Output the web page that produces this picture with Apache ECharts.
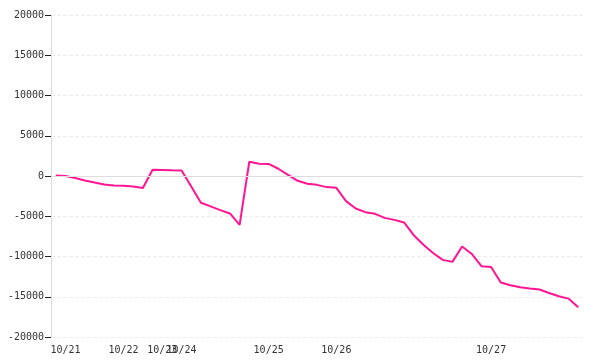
<!DOCTYPE html>
<html>
<head>
<meta charset="utf-8">
<script src="https://cdn.jsdelivr.net/npm/echarts@6/dist/echarts.min.js"></script>
<style>html,body{margin:0;padding:0;background:#fff}#c{width:600px;height:360px}</style>
</head>
<body>
<div id="c"></div>
<script>
// one category per data point; the axis label shows the date where it changes
const categories = [
  '10/20',
  '10/21','10/21','10/21','10/21','10/21','10/21',
  '10/22','10/22','10/22','10/22',
  '10/23','10/23',
  '10/24','10/24','10/24','10/24','10/24','10/24','10/24','10/24','10/24',
  '10/25','10/25','10/25','10/25','10/25','10/25','10/25',
  '10/26','10/26','10/26','10/26','10/26','10/26','10/26','10/26','10/26','10/26','10/26','10/26','10/26','10/26','10/26','10/26',
  '10/27','10/27','10/27','10/27','10/27','10/27','10/27','10/27','10/27','10/27'
];
const values = [
  50, 0, -260, -550, -800, -1050, -1170, -1220, -1300, -1500,
  770, 750, 700, 680, -1300, -3330, -3780, -4240, -4650, -6070,
  1770, 1520, 1500, 900, 150, -600, -970, -1100, -1380, -1470,
  -3120, -4030, -4490, -4700, -5200, -5450, -5770, -7350, -8550, -9560,
  -10420, -10670, -8760, -9680, -11210, -11300, -13240, -13570, -13820, -13980,
  -14100, -14530, -14940, -15230, -16300
];
const yMin = -20000, yMax = 20000, yStep = 5000;

const font = 'DejaVu Sans Mono';
const chart = echarts.init(document.getElementById('c'), null, {renderer: 'canvas'});
chart.setOption({
  animation: false,
  backgroundColor: '#fff',
  grid: {left: 51, right: 17, top: 15, bottom: 23, containLabel: false},
  xAxis: {
    type: 'category',
    data: categories,
    boundaryGap: true,
    axisLine: {show: false},
    axisTick: {show: false},
    splitLine: {show: false},
    axisLabel: {
      color: '#333', fontFamily: font, fontSize: 10, margin: 8,
      interval: function (i) { return i > 0 && categories[i] !== categories[i - 1]; }
    }
  },
  yAxis: {
    type: 'value',
    min: yMin, max: yMax, interval: yStep,
    axisLine: {show: true, lineStyle: {color: '#ddd', width: 1}},
    axisTick: {show: true, length: 6, lineStyle: {color: '#222', width: 1}},
    axisLabel: {color: '#333', fontFamily: font, fontSize: 10, margin: 7,
      formatter: function (v) { return String(v); }},
    splitLine: {show: true, lineStyle: {color: '#eee', type: 'dashed', width: 1}}
  },
  series: [{
    type: 'line',
    data: values,
    showSymbol: false,
    symbol: 'none',
    lineStyle: {color: '#ff1493', width: 2},
    itemStyle: {color: '#ff1493'},
    markLine: {
      silent: true,
      symbol: 'none',
      label: {show: false},
      lineStyle: {color: '#ddd', type: 'solid', width: 1},
      data: [{yAxis: 0}]
    },
    z: 3
  }]
});
</script>
</body>
</html>
